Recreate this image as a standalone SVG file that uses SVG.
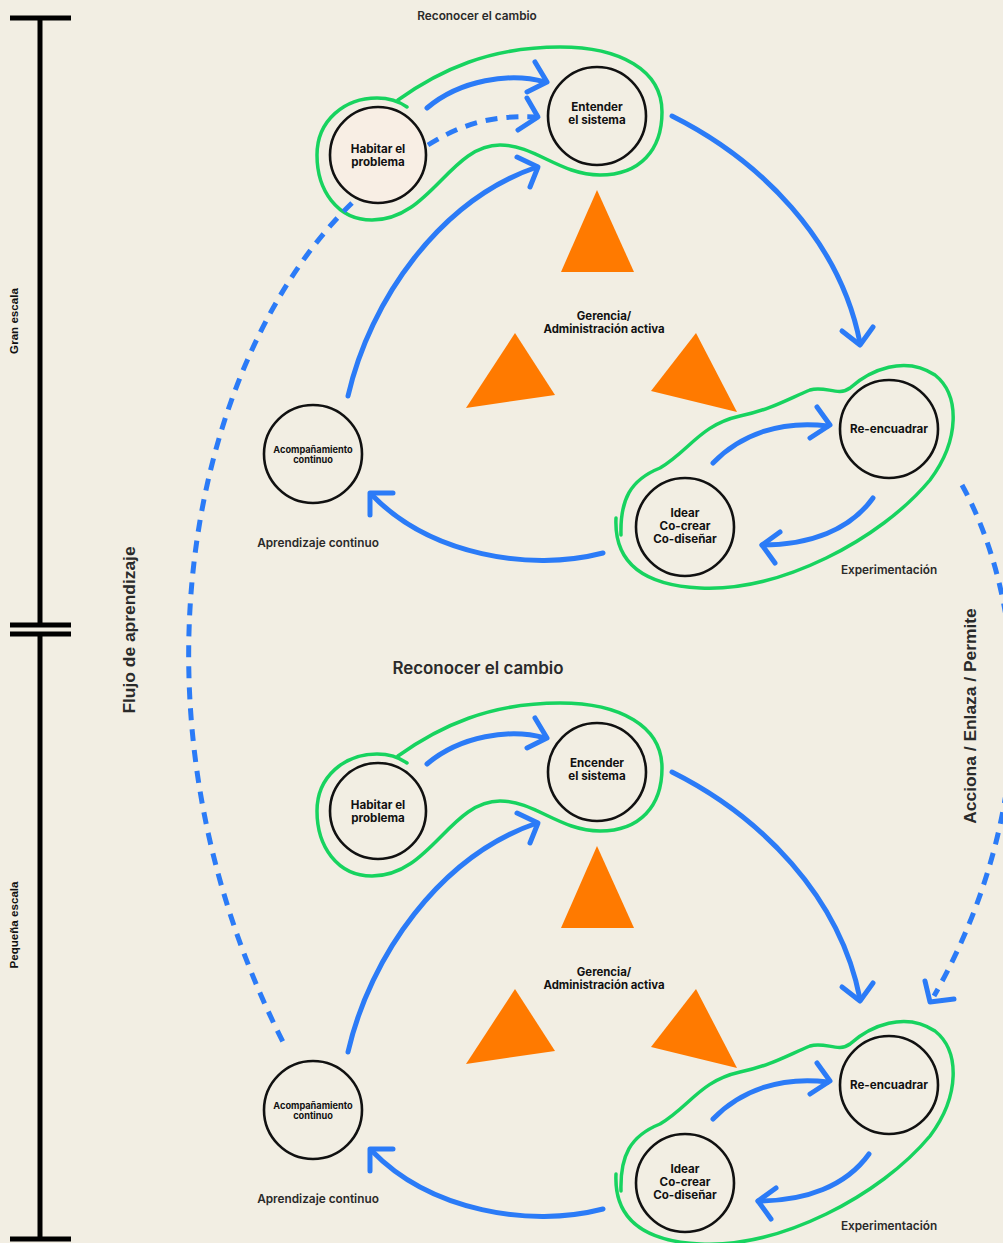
<svg xmlns="http://www.w3.org/2000/svg" width="1003" height="1243" viewBox="0 0 1003 1243">
<style>
.bg{fill:#F2EEE3}
.node{fill:none;stroke:#111;stroke-width:2.6}
.green{fill:none;stroke:#17D35F;stroke-width:3.5;stroke-linecap:round;stroke-linejoin:round}
.blue{fill:none;stroke:#2B7BF7;stroke-width:5;stroke-linecap:round;stroke-linejoin:round}
.dash{stroke-dasharray:12 9;stroke-linecap:butt}
.tri{fill:#FF7A00}
.bar{stroke:#000;stroke-width:5;fill:none}
text{font-family:Inter,"Noto Sans","Liberation Sans",sans-serif;font-weight:700;fill:#111;text-anchor:middle}
.lbl{font-size:11.6px}
.mid{font-size:11.4px}
.sm{font-size:9.2px}
.cap{font-size:11.8px;fill:#2a2a2a;font-weight:600}
.big{font-family:"Liberation Sans",Arial,sans-serif;font-size:17.4px;fill:#2a2a2a}
.side{font-family:"Liberation Sans",Arial,sans-serif;font-size:11.6px;font-weight:700;fill:#111}
</style>
<rect class="bg" x="0" y="0" width="1003" height="1243"/>

<g id="scale">
<path class="bar" d="M10,18 H71 M40,18 V626 M10,625 H71 M10,634 H71 M40,634 V1240 M10,1239 H71"/>
<text class="side" transform="translate(18,321) rotate(-90)">Gran escala</text>
<text class="side" transform="translate(18,925) rotate(-90)">Pequeña escala</text>
</g>

<text class="big" transform="translate(135,630) rotate(-90)">Flujo de aprendizaje</text>
<text class="big" transform="translate(976,716) rotate(-90)">Acciona / Enlaza / Permite</text>

<!-- top section -->
<g id="top-labels">
<text style="font-size:11.8px;fill:#2a2a2a;font-weight:600" x="477" y="20">Reconocer el cambio</text>
<text class="cap" x="318" y="547">Aprendizaje continuo</text>
<text class="cap" x="889" y="574">Experimentación</text>
<text class="mid" x="604" y="320">Gerencia/</text>
<text class="mid" x="604" y="333">Administración activa</text>
</g>
<g id="top-triangles">
<polygon class="tri" points="597,190 561,272 634,272"/>
<polygon class="tri" points="515,333 466,408 555,395"/>
<polygon class="tri" points="696,333 651,391 737,412"/>
</g>
<g id="top-groups">
<path class="green" d="M398,100 C440,70 490,47 560,47 C620,47 662,70 662,112 C662,150 640,175 600,175 C560,175 535,145 500,145 C450,145 430,220 372,220 C337,220 317,190 317,155 C317,120 345,98 377,98 C390,98 400,102 407,107"/>
<path class="green" d="M616,518 C614,560 640,585 700,588 C780,592 880,540 930,480 C960,440 960,395 935,375 C905,355 870,370 850,388 C838,397 825,385 810,390 C790,398 770,410 740,416 C700,425 690,450 660,468 C630,480 620,500 621,535"/>
</g>
<g id="top-habitar"><circle cx="378" cy="155" r="48" fill="#F8EEE4" stroke="#111" stroke-width="2.6"/><text class="lbl" x="378" y="153">Habitar el</text><text class="lbl" x="378" y="166">problema</text></g>
<g id="top-entender"><circle class="node" cx="597" cy="116" r="49"/><text class="lbl" x="597" y="111">Entender</text><text class="lbl" x="597" y="124">el sistema</text></g>
<g id="top-acomp"><circle class="node" cx="313" cy="454" r="49"/><text class="sm" x="313" y="453">Acompañamiento</text><text class="sm" x="313" y="462.5">continuo</text></g>
<g id="top-reencuadrar"><circle class="node" cx="889" cy="429" r="49"/><text class="lbl" x="889" y="433">Re-encuadrar</text></g>
<g id="top-idear"><circle class="node" cx="685" cy="527" r="49"/><text class="lbl" x="685" y="517">Idear</text><text class="lbl" x="685" y="530">Co-crear</text><text class="lbl" x="685" y="543">Co-diseñar</text></g>

<!-- bottom section -->
<g id="bottom-labels">
<text style="font-size:16.9px;fill:#2a2a2a;font-weight:600" x="478" y="674">Reconocer el cambio</text>
<text class="cap" x="318" y="1203">Aprendizaje continuo</text>
<text class="cap" x="889" y="1230">Experimentación</text>
<text class="mid" x="604" y="976">Gerencia/</text>
<text class="mid" x="604" y="989">Administración activa</text>
</g>
<g id="bottom-triangles" transform="translate(0,656)">
<polygon class="tri" points="597,190 561,272 634,272"/>
<polygon class="tri" points="515,333 466,408 555,395"/>
<polygon class="tri" points="696,333 651,391 737,412"/>
</g>
<g id="bottom-groups" transform="translate(0,656)">
<path class="green" d="M398,100 C440,70 490,47 560,47 C620,47 662,70 662,112 C662,150 640,175 600,175 C560,175 535,145 500,145 C450,145 430,220 372,220 C337,220 317,190 317,155 C317,120 345,98 377,98 C390,98 400,102 407,107"/>
<path class="green" d="M616,518 C614,560 640,585 700,588 C780,592 880,540 930,480 C960,440 960,395 935,375 C905,355 870,370 850,388 C838,397 825,385 810,390 C790,398 770,410 740,416 C700,425 690,450 660,468 C630,480 620,500 621,535"/>
</g>
<g id="bottom-habitar"><circle class="node" cx="378" cy="811" r="48"/><text class="lbl" x="378" y="809">Habitar el</text><text class="lbl" x="378" y="822">problema</text></g>
<g id="bottom-encender"><circle class="node" cx="597" cy="772" r="49"/><text class="lbl" x="597" y="767">Encender</text><text class="lbl" x="597" y="780">el sistema</text></g>
<g id="bottom-acomp"><circle class="node" cx="313" cy="1110" r="49"/><text class="sm" x="313" y="1109">Acompañamiento</text><text class="sm" x="313" y="1118.5">continuo</text></g>
<g id="bottom-reencuadrar"><circle class="node" cx="889" cy="1085" r="49"/><text class="lbl" x="889" y="1089">Re-encuadrar</text></g>
<g id="bottom-idear"><circle class="node" cx="685" cy="1183" r="49"/><text class="lbl" x="685" y="1173">Idear</text><text class="lbl" x="685" y="1186">Co-crear</text><text class="lbl" x="685" y="1199">Co-diseñar</text></g>

<g id="connectors">
<!-- long dashed flows -->
<path class="blue dash" d="M352,203 C200,350 110,700 283,1042"/>
<path class="blue dash" d="M962,485 C1025,600 1045,800 934,996"/>
<path class="blue" d="M925,981 L930,1002 L954,999"/>
<g id="top-connectors">
<path class="blue" d="M427,108 C460,80 510,72 545,82"/>
<path class="blue" d="M535,62 L547,82 L527,92"/>
<path class="blue dash" d="M428,145 C460,125 490,115 535,117"/>
<path class="blue" d="M527,98 L538,117 L518,130"/>
<path class="blue" d="M348,396 C370,300 440,200 537,167"/>
<path class="blue" d="M517,157 L538,167 L530,187"/>
<path class="blue" d="M672,116 C760,160 840,240 860,343"/>
<path class="blue" d="M842,331 L860,345 L873,327"/>
<path class="blue" d="M603,553 C530,572 430,555 372,495"/>
<path class="blue" d="M393,493 L370,493 L370,515"/>
<path class="blue" d="M713,463 C740,435 780,420 828,426"/>
<path class="blue" d="M817,407 L830,425 L810,438"/>
<path class="blue" d="M873,498 C850,530 810,545 762,545"/>
<path class="blue" d="M780,532 L762,545 L775,563"/>
</g>
<g id="bottom-connectors" transform="translate(0,656)">
<path class="blue" d="M427,108 C460,80 510,72 545,82"/>
<path class="blue" d="M535,62 L547,82 L527,92"/>
<path class="blue" d="M348,396 C370,300 440,200 537,167"/>
<path class="blue" d="M517,157 L538,167 L530,187"/>
<path class="blue" d="M672,116 C760,160 840,240 860,343"/>
<path class="blue" d="M842,331 L860,345 L873,327"/>
<path class="blue" d="M603,553 C530,572 430,555 372,495"/>
<path class="blue" d="M393,493 L370,493 L370,515"/>
<path class="blue" d="M713,463 C740,435 780,420 828,426"/>
<path class="blue" d="M817,407 L830,425 L810,438"/>
<path class="blue" d="M869,498 C846,530 806,545 758,545"/>
<path class="blue" d="M776,532 L758,545 L771,563"/>
</g>
</g>
</svg>
